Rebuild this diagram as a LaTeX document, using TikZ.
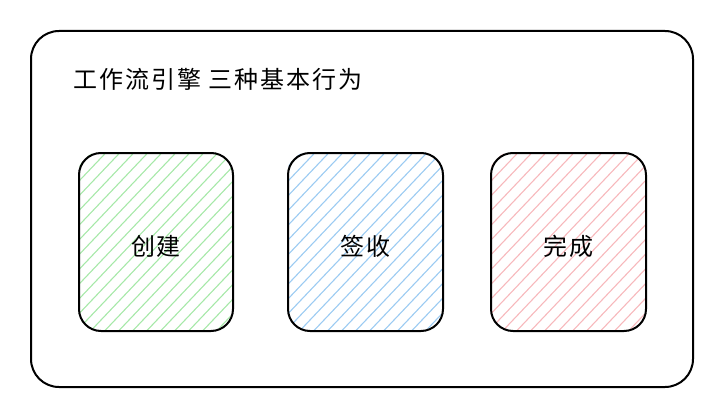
\documentclass[tikz,border=0pt]{standalone}
\usepackage{fontspec}
\newfontfamily\cjk[LetterSpace=8]{Noto Sans CJK SC}
\tikzset{
  every node/.append style={font=\cjk},
  frame/.style={draw, line width=2pt, rounded corners=28pt},
  card/.style={draw, line width=2pt, rounded corners=22pt},
  big/.style={font=\cjk\fontsize{24}{28}\selectfont},
}
\definecolor{hgreen}{HTML}{A6E8A8}
\definecolor{hblue}{HTML}{9CCBF2}
\definecolor{hred}{HTML}{F7B8BC}
\newcommand{\hatchcard}[4]{% name, x1, x2, colour
  \begin{scope}
    \clip[rounded corners=22pt] (#2,152) rectangle (#3,330);
    \foreach \k in {-220,-206,...,220}
      \draw[#4, line width=1.1pt] ({#2+\k},340) -- ({#2+\k+190},140);
  \end{scope}
  \node[card, minimum width={(#3-#2)*1pt}, minimum height=178pt, anchor=north west] (#1) at (#2,152) {};
}
\begin{document}
\begin{tikzpicture}[x=1pt,y=-1pt]
\useasboundingbox (0,0) rectangle (728,420);
\node[frame, minimum width=662pt, minimum height=356pt, anchor=north west] (outer) at (30,30) {};
\node[big, anchor=west] (title) at (70,79) {工作流引擎 三种基本行为};
\hatchcard{create}{78}{232}{hgreen}
\hatchcard{sign}{287}{442}{hblue}
\hatchcard{done}{490}{645}{hred}
\node[big] (t1) at ([yshift=-4pt]create) {创建};
\node[big] (t2) at ([yshift=-4pt]sign) {签收};
\node[big] (t3) at ([yshift=-4pt]done) {完成};
\end{tikzpicture}
\end{document}
